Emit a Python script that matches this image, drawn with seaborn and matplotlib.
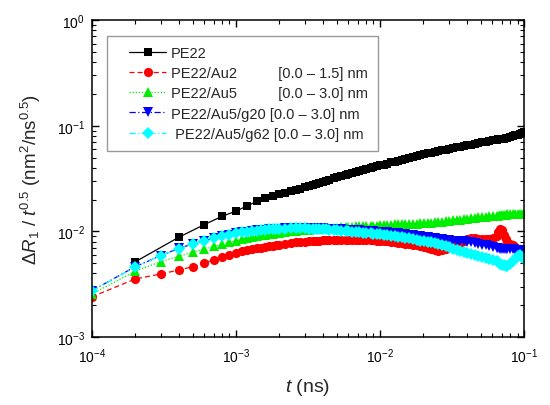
import numpy as np
import pandas as pd
import matplotlib
matplotlib.use("Agg")
import matplotlib.pyplot as plt
import seaborn as sns
from matplotlib.lines import Line2D
from matplotlib.legend_handler import HandlerLine2D

# time points in units of 1e-4 ns
k_head_black = [2, 4, 6, 8, 10, 12, 14, 16, 18]
k_head_col = [1, 2, 3, 4, 5, 6, 7, 8, 9, 10, 11, 12, 13, 14, 15, 16, 17, 18, 19]
k_tail = [20, 22, 24, 26, 28, 30, 32, 34, 36, 38, 40, 42, 44, 48, 50, 54, 58, 60, 64, 68,
          72, 76, 80, 86, 90, 96, 100, 106, 112, 120, 126, 134, 142, 150, 160, 170, 180, 190,
          202, 214, 226, 240, 254, 270, 286, 302, 320, 340, 360, 382, 404, 428, 454, 482,
          510, 540, 574, 608, 644, 660, 682, 700, 722, 744, 766, 800, 840, 870, 900, 940,
          970, 1000]

pe22_head = [0.00515, 0.00877, 0.01156, 0.01387, 0.01556, 0.01746, 0.01923, 0.02051, 0.02173]
pe22_tail = [0.02265, 0.02328, 0.02399, 0.02466, 0.02535, 0.02606, 0.0267, 0.02735, 0.028, 0.02864,
             0.0294, 0.0302, 0.0307, 0.0318, 0.03243, 0.0333, 0.0342, 0.03467, 0.0355, 0.0363,
             0.0371, 0.03802, 0.0387, 0.0397, 0.0404, 0.0413, 0.04217, 0.0429, 0.0437, 0.04519,
             0.0458, 0.0467, 0.0478, 0.04875, 0.0497, 0.0507, 0.05164, 0.0525, 0.0536, 0.0546,
             0.0557, 0.0567, 0.0575, 0.05834, 0.0593, 0.0601, 0.06138, 0.0624, 0.0633, 0.0643,
             0.0653, 0.0662, 0.0673, 0.0684, 0.0694, 0.0705, 0.0717, 0.0727, 0.0737, 0.0741,
             0.0747, 0.0752, 0.0757, 0.0765, 0.0772, 0.0785, 0.08, 0.0813, 0.0826, 0.0841,
             0.0853, 0.0865]

au2_head = [0.0024, 0.00354, 0.00395, 0.0043, 0.00463, 0.00501, 0.00538, 0.00571, 0.00597, 0.00624,
            0.00647, 0.00662, 0.00678, 0.0069, 0.00702, 0.00712, 0.00721, 0.0073, 0.00738]
au2_tail = [0.00745, 0.00762, 0.00775, 0.00785, 0.00793, 0.008, 0.00805, 0.00809, 0.00813, 0.00817,
            0.0082, 0.00822, 0.00824, 0.00827, 0.00829, 0.00831, 0.00832, 0.00832, 0.00831, 0.0083,
            0.0083, 0.00828, 0.00827, 0.00824, 0.00822, 0.00819, 0.00816, 0.0081, 0.00803, 0.00795,
            0.00789, 0.00781, 0.00773, 0.00765, 0.00755, 0.00746, 0.00738, 0.00726, 0.00712, 0.00702,
            0.00685, 0.00668, 0.00656, 0.00665, 0.00685, 0.00706, 0.0073, 0.00755, 0.00778, 0.0081,
            0.0084, 0.00858, 0.0086, 0.00852, 0.00842, 0.0084, 0.00848, 0.0086, 0.0091, 0.0098,
            0.0105, 0.0102, 0.0093, 0.0084, 0.008, 0.0076, 0.0074, 0.0071, 0.0068, 0.0065,
            0.0064, 0.0063]

au5_head = [0.00255, 0.0042, 0.00516, 0.0058, 0.00633, 0.0068, 0.0072, 0.00758, 0.00787, 0.00815,
            0.0084, 0.0086, 0.0088, 0.00898, 0.00914, 0.00928, 0.0094, 0.00952, 0.00963]
au5_tail = [0.00972, 0.00988, 0.01002, 0.01014, 0.01024, 0.01033, 0.0104, 0.01047, 0.01055, 0.0106,
            0.01065, 0.0107, 0.01074, 0.0108, 0.01085, 0.01093, 0.011, 0.01105, 0.01108, 0.01112,
            0.01116, 0.0112, 0.01123, 0.01127, 0.0113, 0.01136, 0.0114, 0.01148, 0.01155, 0.0116,
            0.01163, 0.01167, 0.01171, 0.01175, 0.01178, 0.01182, 0.01185, 0.01188, 0.01195, 0.012,
            0.01208, 0.01215, 0.01222, 0.01235, 0.01247, 0.01258, 0.0127, 0.01284, 0.01295, 0.01306,
            0.01318, 0.0133, 0.01342, 0.01356, 0.0137, 0.01382, 0.0139, 0.01396, 0.01405, 0.01408,
            0.0142, 0.01426, 0.01432, 0.0144, 0.01445, 0.0145, 0.01452, 0.01455, 0.01458, 0.0146,
            0.0146, 0.0146]

g20_head = [0.00274, 0.00463, 0.00588, 0.0069, 0.00758, 0.00815, 0.0086, 0.009, 0.0093, 0.0096,
            0.0098, 0.00995, 0.0101, 0.0102, 0.0103, 0.01038, 0.01045, 0.0105, 0.01055]
g20_tail = [0.0106, 0.01066, 0.0107, 0.01072, 0.01073, 0.01073, 0.01073, 0.01072, 0.0107, 0.01068,
            0.01065, 0.01062, 0.0106, 0.01054, 0.0105, 0.01044, 0.01038, 0.01035, 0.0103, 0.01025,
            0.0102, 0.01015, 0.0101, 0.01003, 0.01, 0.00994, 0.0099, 0.00984, 0.00978, 0.0097,
            0.00964, 0.00956, 0.00948, 0.0094, 0.00928, 0.00917, 0.0091, 0.00898, 0.00885, 0.00878,
            0.0087, 0.00858, 0.00848, 0.0084, 0.00832, 0.00822, 0.00815, 0.00812, 0.00808, 0.00803,
            0.008, 0.0079, 0.00778, 0.00762, 0.00748, 0.00738, 0.00722, 0.00708, 0.00695, 0.0069,
            0.0068, 0.0068, 0.0068, 0.0068, 0.0068, 0.0068, 0.00675, 0.0067, 0.00665, 0.0066,
            0.0065, 0.0064]

g62_head = [0.00272, 0.0046, 0.00585, 0.00688, 0.00756, 0.00813, 0.00858, 0.00898, 0.00928, 0.00957,
            0.00978, 0.00993, 0.01007, 0.01018, 0.01028, 0.01036, 0.01043, 0.01049, 0.01054]
g62_tail = [0.01058, 0.01063, 0.01066, 0.01067, 0.01067, 0.01066, 0.01064, 0.01062, 0.01058, 0.01055,
            0.0105, 0.01045, 0.0104, 0.01032, 0.01025, 0.01017, 0.01009, 0.01005, 0.00997, 0.00989,
            0.00981, 0.00975, 0.00968, 0.00958, 0.00952, 0.00943, 0.00935, 0.00927, 0.0092, 0.0091,
            0.00901, 0.0089, 0.00882, 0.0087, 0.00858, 0.00845, 0.0083, 0.00818, 0.00805, 0.00798,
            0.00788, 0.00772, 0.00758, 0.0074, 0.00722, 0.00705, 0.0068, 0.00665, 0.00652, 0.0064,
            0.00625, 0.00612, 0.006, 0.00588, 0.00575, 0.00562, 0.00548, 0.00535, 0.00522, 0.00515,
            0.0049, 0.00485, 0.0048, 0.00475, 0.00472, 0.0049, 0.0052, 0.0055, 0.0059, 0.006,
            0.0057, 0.0055]

labels = ["PE22",
          "PE22/Au2          [0.0 \u2013 1.5] nm",
          "PE22/Au5          [0.0 \u2013 3.0] nm",
          "PE22/Au5/g20 [0.0 \u2013 3.0] nm",
          " PE22/Au5/g62 [0.0 \u2013 3.0] nm"]

sns.set_style("ticks")
plt.rcParams['font.family'] = ['Liberation Sans', 'DejaVu Sans']
plt.rcParams['mathtext.fontset'] = 'custom'
plt.rcParams['mathtext.rm'] = 'Liberation Sans'
plt.rcParams['mathtext.it'] = 'Liberation Sans:italic'
plt.rcParams['mathtext.bf'] = 'Liberation Sans:bold'

fig = plt.figure(figsize=(5.5, 4.06), dpi=100)
ax = fig.add_axes([0.167, 0.1675, 0.953 - 0.167, 0.948 - 0.1675])

tb = np.array(k_head_black + k_tail) * 1e-4
tc = np.array(k_head_col + k_tail) * 1e-4

series = [
    (tb, pe22_head + pe22_tail, 'black', 's', '-', 5.7),
    (tc, au2_head + au2_tail, '#ff0000', 'o', (0, (4, 2.5)), 6.6),
    (tc, au5_head + au5_tail, '#00ee00', '^', (0, (1, 1.5)), 7.2),
    (tc, g20_head + g20_tail, '#0000ff', 'v', (0, (5, 2, 1, 2)), 7.2),
    (tc, g62_head + g62_tail, '#00ffff', 'D', (0, (5, 2, 1, 2, 1, 2)), 6.0),
]
for (t, v, c, m, ls, ms), lab in zip(series, labels):
    df = pd.DataFrame({'t': t, 'v': v})
    sns.lineplot(data=df, x='t', y='v', ax=ax, color=c, marker=m, linestyle=ls,
                 markersize=ms, markeredgewidth=0, linewidth=0.9, label=lab,
                 errorbar=None, sort=False)

ax.set_xscale('log')
ax.set_yscale('log')
ax.set_xlim(1e-4, 1e-1)
ax.set_ylim(1e-3, 1e0)

for s in ax.spines.values():
    s.set_linewidth(1.1)
    s.set_color('black')
ax.tick_params(which='both', direction='in', top=True, right=True, labelsize=10, colors='black')
ax.tick_params(which='major', length=5, width=1)
ax.tick_params(which='minor', length=3, width=0.8)
ax.tick_params(axis='x', which='both', pad=7)
ax.tick_params(axis='y', which='both', pad=5)

ax.set_xlabel(r'$\mathit{t}$ (ns)', fontsize=14, labelpad=8)
ax.set_ylabel('$\\mathit{\u0394R}_1$ / $\\mathit{t}^{0.5}$ (nm$^2$/ns$^{0.5}$)', fontsize=13.5, labelpad=10)

leg = ax.legend(loc='upper left', bbox_to_anchor=(0.035, 0.950), borderaxespad=0,
                fontsize=10.5, frameon=True, fancybox=False, framealpha=1,
                edgecolor='#999999', handlelength=3.36, handletextpad=0.34,
                borderpad=0.7, labelspacing=0.42, numpoints=1,
                handler_map={Line2D: HandlerLine2D(xpad=0.82)})
leg.get_frame().set_linewidth(1.0)

fig.savefig('out.png', dpi=100)
